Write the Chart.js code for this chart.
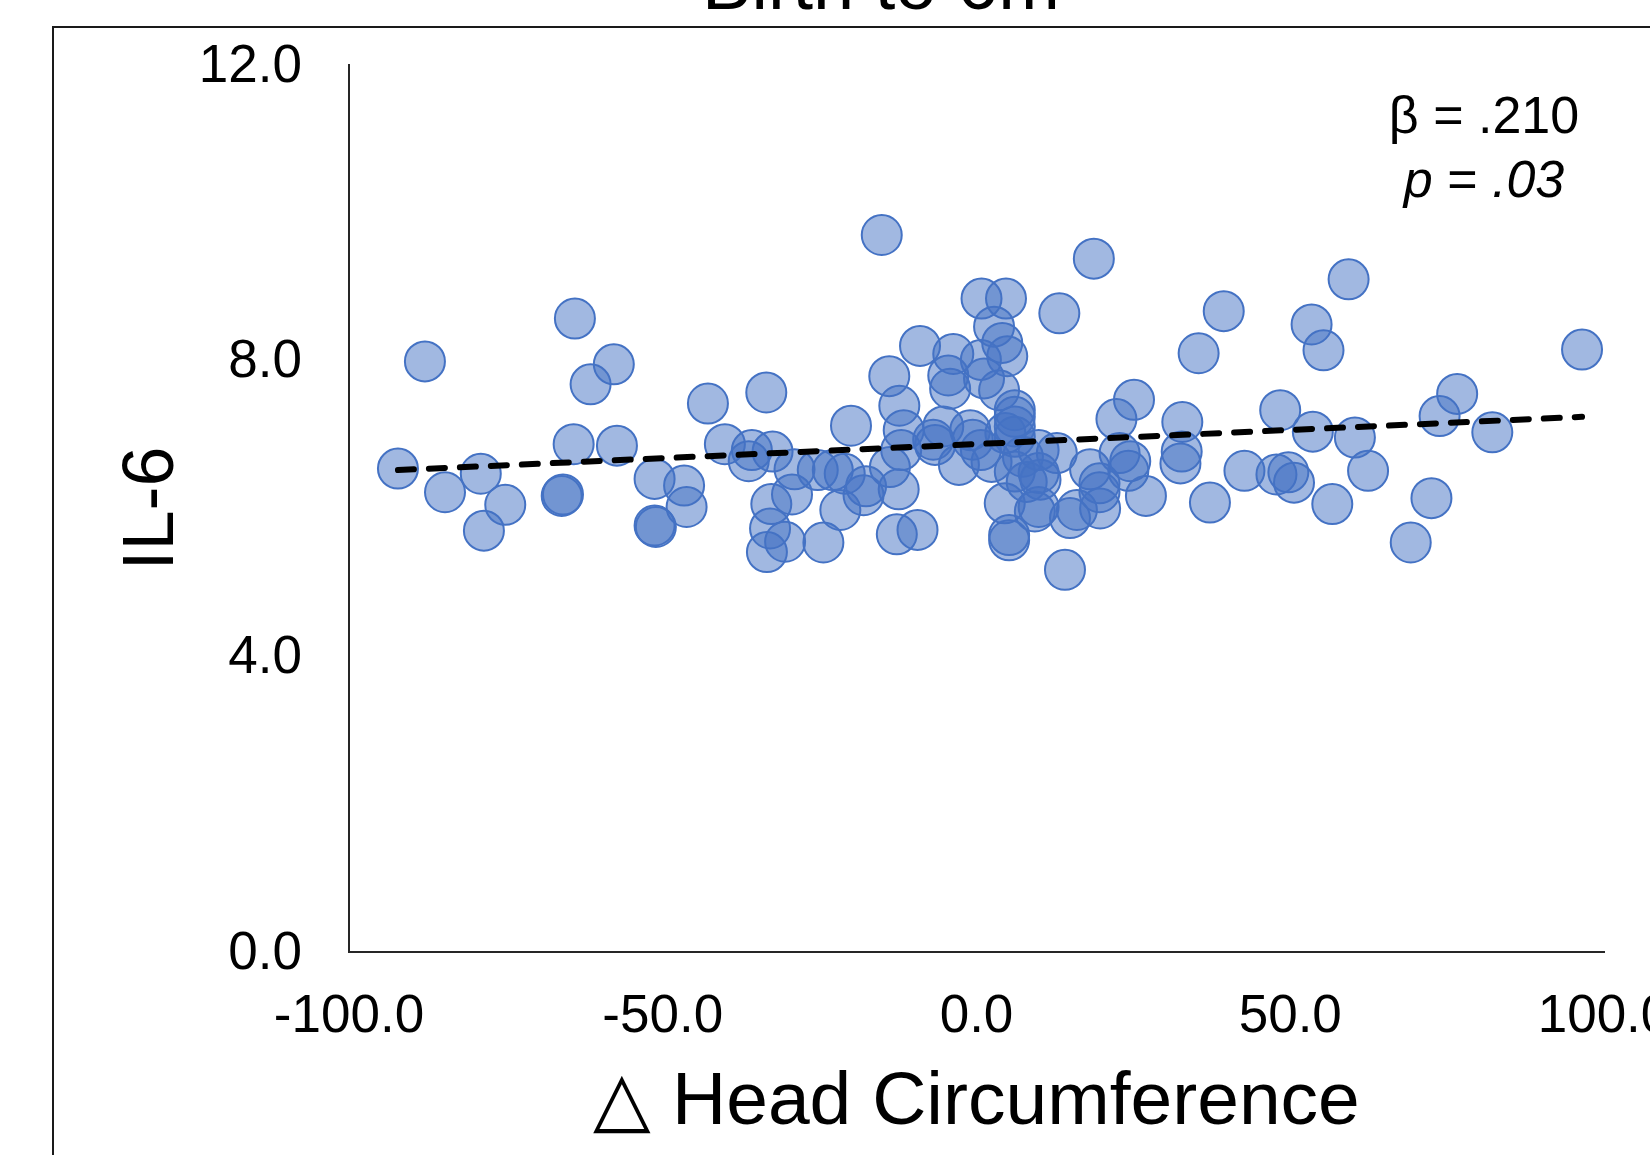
<!DOCTYPE html>
<html>
<head>
<meta charset="utf-8">
<title>Birth to 6m</title>
<script src="https://cdn.jsdelivr.net/npm/chart.js@4.4.1/dist/chart.umd.min.js"></script>
<style>
  html, body { margin: 0; padding: 0; background: #fff; overflow: hidden; width: 1650px; height: 1155px; }
  #wrap { position: absolute; left: 0; top: -80px; }
</style>
</head>
<body>
<div id="wrap"><canvas id="scatterChart" width="1760" height="1300"></canvas></div>
<script>
// change in head circumference (x) and IL-6 (y)
const headChange = [
  -92.2, -87.9, -84.7, -79.0, -78.5, -75.1,
  -64.0, -61.5, -57.8, -64.2, -57.3, -65.9, -66.1,
  -51.3, -46.6, -46.2, -51.3, -51.1,
  -42.8, -40.1, -35.8, -36.3, -32.5, -33.5,
  -29.0, -29.4, -32.7, -32.9, -30.5, -33.4,
  -25.3, -22.9, -21.0, -17.6, -18.0, -21.7, -24.4,
  -20.0, -13.9, -12.3, -11.6, -12.0, -13.8, -12.4, -12.7, -9.4,
  -15.1,
  -9.0, -3.7, 0.7, -4.5, -4.2, 1.2, 3.6,
  0.8, 4.7, 2.8, 4.1, 4.9,
  6.1, 6.1, 6.1, 4.6, -5.3, -1.0, -0.6, -6.9, -6.6,
  -2.8, 2.4, 0.7, 6.1, 6.1, 7.4, 9.9, 12.8, 9.9, 8.0, 10.2,
  4.5, 9.3, 9.9, 14.9, 5.2, 5.2, 14.1, 16.0,
  13.2, 18.7,
  18.1, 19.6, 19.6, 19.7, 22.8, 24.5, 24.2, 27.0,
  22.3, 25.1, 32.8, 32.7, 32.5, 35.4, 37.2, 39.4,
  42.7, 47.8, 49.7, 50.6, 48.4, 53.4, 55.3, 53.6, 56.7,
  59.3, 60.3, 62.4, 69.2, 72.5, 73.8, 76.6, 82.2, 96.5
];
const il6 = [
  6.54, 7.99, 6.22, 6.47, 5.70, 6.05,
  8.57, 7.68, 7.95, 6.87, 6.85, 6.19, 6.17,
  6.40, 6.31, 6.02, 5.77, 5.75,
  7.42, 6.87, 6.79, 6.64, 6.77, 7.57,
  6.53, 6.19, 6.06, 5.73, 5.55, 5.41,
  6.52, 6.52, 6.47, 6.30, 6.18, 5.98, 5.54,
  7.12, 7.79, 7.39, 7.06, 6.79, 6.56, 6.26, 5.65, 5.71,
  9.70,
  8.20, 8.09, 8.01, 7.80, 7.62, 7.76, 7.60,
  8.84, 8.84, 8.46, 8.24, 8.06,
  7.33, 7.24, 7.11, 7.02, 7.11, 7.06, 6.93, 6.93, 6.86,
  6.59, 6.63, 6.79, 6.97, 6.50, 6.70, 6.79, 6.75, 6.48, 6.36, 6.39,
  6.07, 5.96, 6.02, 5.87, 5.64, 5.57, 5.17, 5.98,
  8.64, 9.38,
  6.53, 6.34, 6.22, 6.00, 6.75, 6.64, 6.51, 6.17,
  7.21, 7.47, 7.17, 6.77, 6.61, 8.10, 6.08, 8.67,
  6.51, 6.46, 6.49, 6.35, 7.33, 8.49, 8.14, 7.04, 6.06,
  9.10, 6.96, 6.51, 5.54, 6.14, 7.25, 7.55, 7.03, 8.15
];

// linear trend line end points
const trendX = [-92.2, 96.5];
const trendY = [6.52, 7.24];

const xTicks = [-100, -50, 0, 50, 100];
const yTicks = [0, 4, 8, 12];

const FONT = "'Liberation Sans', Arial, sans-serif";

const points = headChange.map((x, i) => ({ x: x, y: il6[i] }));
const trend = trendX.map((x, i) => ({ x: x, y: trendY[i] }));

// background, outer frame, chart title and the stats note
const decorations = {
  id: "decorations",
  beforeDraw(chart) {
    const ctx = chart.ctx;
    ctx.save();
    ctx.fillStyle = "#fff";
    ctx.fillRect(0, 0, chart.width, chart.height);
    ctx.strokeStyle = "#1a1a1a";
    ctx.lineWidth = 2;
    ctx.strokeRect(53, 107, 3000, 3000);
    ctx.restore();
  },
  afterDraw(chart) {
    const ctx = chart.ctx;
    ctx.save();
    ctx.fillStyle = "#000";
    ctx.textBaseline = "alphabetic";

    ctx.font = "74px " + FONT;
    ctx.textAlign = "center";
    ctx.fillText("Birth to 6m", 881, 89);

    ctx.font = "52px " + FONT;
    ctx.fillText("\u03B2 = .210", 1484, 213);

    // p = .03 with italic p and value
    const italic = "italic 52px " + FONT;
    const upright = "52px " + FONT;
    const parts = [["p", italic], [" = ", upright], [".03", italic]];
    let total = 0;
    parts.forEach(p => { ctx.font = p[1]; total += ctx.measureText(p[0]).width; });
    let x = 1484 - total / 2;
    ctx.textAlign = "left";
    parts.forEach(p => {
      ctx.font = p[1];
      ctx.fillText(p[0], x, 277);
      x += ctx.measureText(p[0]).width;
    });
    ctx.restore();
  }
};

new Chart(document.getElementById("scatterChart"), {
  type: "scatter",
  data: {
    datasets: [
      {
        label: "Trend",
        data: trend,
        showLine: true,
        borderColor: "#000",
        borderWidth: 6,
        borderDash: [16, 15],
        borderCapStyle: "round",
        pointRadius: 0,
        order: 0
      },
      {
        label: "IL-6",
        data: points,
        backgroundColor: "rgba(68, 114, 196, 0.5)",
        borderColor: "#4472C4",
        borderWidth: 2,
        pointRadius: 20,
        order: 1
      }
    ]
  },
  options: {
    responsive: false,
    animation: false,
    devicePixelRatio: 1,
    layout: { padding: { left: 0, right: 156, top: 145, bottom: 68 } },
    plugins: {
      legend: { display: false },
      tooltip: { enabled: false }
    },
    scales: {
      x: {
        type: "linear",
        min: -100,
        max: 100,
        afterBuildTicks: s => { s.ticks = xTicks.map(v => ({ value: v })); },
        afterFit: s => { s.height = 200; },
        grid: { display: false, drawTicks: false },
        border: { display: true, color: "#262626", width: 2 },
        ticks: {
          padding: 34,
          color: "#000",
          font: { family: FONT, size: 53 },
          maxRotation: 0,
          callback: v => v.toFixed(1)
        },
        title: {
          display: true,
          text: "\u25B3 Head Circumference",
          color: "#000",
          font: { family: FONT, size: 75 },
          padding: { top: 0, bottom: 4 }
        }
      },
      y: {
        type: "linear",
        min: 0,
        max: 12,
        afterBuildTicks: s => { s.ticks = yTicks.map(v => ({ value: v })); },
        afterFit: s => { s.width = 349; },
        grid: { display: false, drawTicks: false },
        border: { display: true, color: "#262626", width: 2 },
        ticks: {
          padding: 47,
          labelOffset: 2,
          color: "#000",
          font: { family: FONT, size: 53 },
          callback: v => v.toFixed(1)
        },
        title: {
          display: true,
          text: "IL-6",
          color: "#000",
          font: { family: FONT, size: 72 },
          padding: { top: 110, bottom: 0 }
        }
      }
    }
  },
  plugins: [decorations]
});
</script>
</body>
</html>
